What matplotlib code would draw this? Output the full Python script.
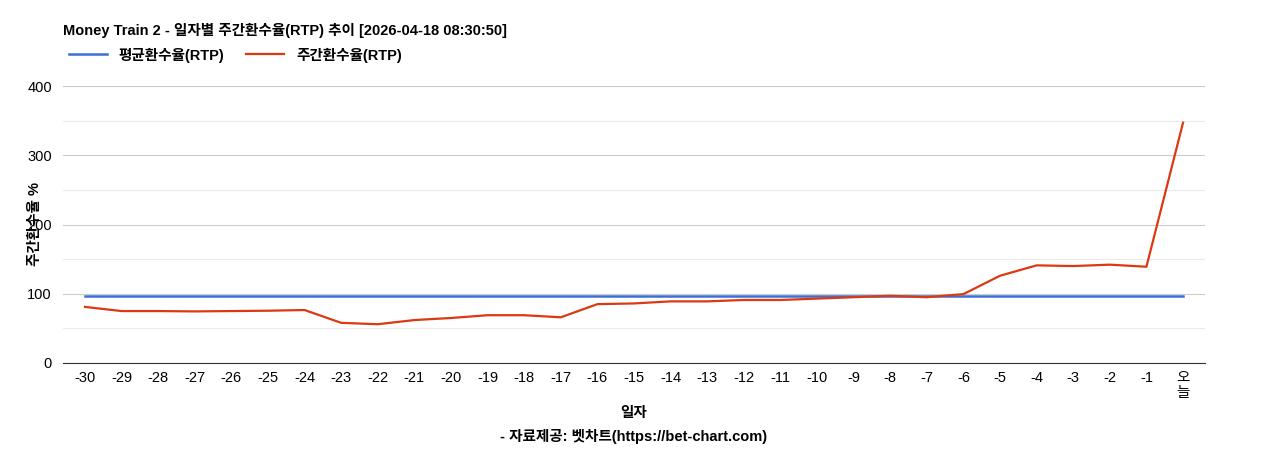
import matplotlib.pyplot as plt
from matplotlib.ticker import MultipleLocator

plt.rcParams['font.family'] = ['Liberation Sans', 'Noto Sans CJK KR', 'DejaVu Sans']

days = [str(d) for d in range(-30, 0)] + ['오\n늘']
weekly_rtp = [81, 75, 75, 74.5, 75, 75.5, 76.5, 58, 56, 62, 65, 69, 69, 66,
              85, 86, 89, 89, 91, 91, 93, 95, 97, 95, 99.5, 126, 141, 140,
              142, 139, 347]
avg_rtp = [97] * len(days)

fig = plt.figure(figsize=(12.68, 4.5), dpi=100)
ax = fig.add_axes([63 / 1268, 1 - 363 / 450, 1142 / 1268, 277 / 450])

x = list(range(len(days)))
l1, = ax.plot(x, avg_rtp, color='#3a6fd8', lw=1.8, label='평균환수율(RTP)')
l2, = ax.plot(x, weekly_rtp, color='#dc3912', lw=1.6, label='주간환수율(RTP)')

ax.set_xlim(-0.6, len(days) - 0.4)
ax.set_ylim(0, 400)
ax.yaxis.set_major_locator(MultipleLocator(100))
ax.yaxis.set_minor_locator(MultipleLocator(50))
ax.grid(axis='y', which='major', color='#cccccc', lw=0.8)
ax.grid(axis='y', which='minor', color='#ebebeb', lw=0.8)
ax.set_axisbelow(True)
ax.set_xticks(x)
ax.set_xticklabels(days, fontsize=10.5, linespacing=1.1)
ax.tick_params(axis='x', length=0, pad=6)
ax.tick_params(axis='y', which='both', length=0, labelsize=10.5, pad=8)
for s in ['top', 'right', 'left']:
    ax.spines[s].set_visible(False)
ax.spines['bottom'].set_color('#333333')

ax.set_ylabel('주간환수율 %', fontsize=10.5, fontweight='bold')
ax.yaxis.set_label_coords(-21 / 1142, 0.5)
ax.set_xlabel('일자', fontsize=10.5, fontweight='bold', labelpad=4)

fig.text(63 / 1268, 1 - 30 / 450, 'Money Train 2 - 일자별 주간환수율(RTP) 추이 [2026-04-18 08:30:50]',
         fontsize=10.5, fontweight='bold', va='center')
fig.legend(handles=[l1, l2], loc='center left', bbox_to_anchor=(56 / 1268, 1 - 55 / 450),
           ncol=2, frameon=False, handlelength=2.6, columnspacing=1.5,
           prop={'weight': 'bold', 'size': 10.5})
fig.text(0.5, 1 - 437 / 450, '- 자료제공: 벳차트(https://bet-chart.com)',
         fontsize=10.5, fontweight='bold', ha='center', va='center')

fig.savefig('out.png', dpi=100)
